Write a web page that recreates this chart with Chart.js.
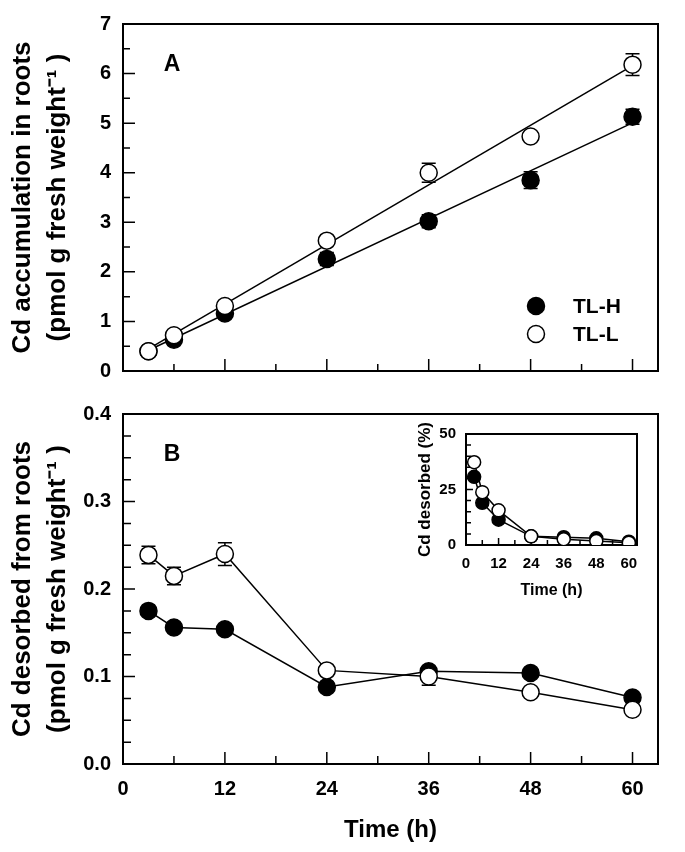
<!DOCTYPE html>
<html>
<head>
<meta charset="utf-8">
<script src="https://cdn.jsdelivr.net/npm/chart.js@4.4.0/dist/chart.umd.min.js"></script>
<style>
body { margin: 0; background: #fff; width: 685px; height: 852px; position: relative; overflow: hidden; }
canvas { position: absolute; }
</style>
</head>
<body>
<canvas id="chartA" width="685" height="395" style="left:0;top:0"></canvas>
<canvas id="chartB" width="685" height="462" style="left:0;top:390px"></canvas>
<canvas id="chartC" width="270" height="190" style="left:400px;top:415px"></canvas>
<script>
// sampling times (h)
var hours = [3, 6, 12, 24, 36, 48, 60];

// A: Cd accumulation in roots
var accumH = [0.40, 0.63, 1.16, 2.26, 3.02, 3.85, 5.13];
var accumL = [0.40, 0.72, 1.31, 2.63, 4.00, 4.73, 6.18];
var accumHErr = [0.02, 0.04, 0.05, 0.13, 0.13, 0.17, 0.15];
var accumLErr = [0.02, 0.04, 0.05, 0.06, 0.19, 0.05, 0.22];

// B: Cd desorbed from roots
var desorbH = [0.175, 0.156, 0.154, 0.088, 0.106, 0.104, 0.076];
var desorbL = [0.239, 0.215, 0.240, 0.107, 0.100, 0.082, 0.062];
var desorbHErr = [0.004, 0.004, 0.004, 0.004, 0.005, 0.004, 0.004];
var desorbLErr = [0.010, 0.010, 0.013, 0.004, 0.010, 0.004, 0.004];

// inset: Cd desorbed (%)
var pctH = [30.7, 19.0, 11.4, 3.9, 3.5, 3.0, 1.5];
var pctL = [37.3, 23.8, 15.6, 3.9, 2.6, 1.8, 1.0];

// ticks
var timeTicks = [0, 12, 24, 36, 48, 60];
var timeMinor = [6, 18, 30, 42, 54];
var accumTicks = [0, 1, 2, 3, 4, 5, 6, 7];
var accumMinor = [0.5, 1.5, 2.5, 3.5, 4.5, 5.5, 6.5];
var desorbTicks = [0, 0.1, 0.2, 0.3, 0.4];
var desorbMinor = [0.025, 0.05, 0.075, 0.125, 0.15, 0.175, 0.225, 0.25, 0.275, 0.325, 0.35, 0.375];
var pctTicks = [0, 25, 50];
var pctMinor = [5, 10, 15, 20, 30, 35, 40, 45];

var FONT = "'Liberation Sans', Arial, Helvetica, sans-serif";

function pts(xs, ys) {
    return xs.map(function (x, i) { return { x: x, y: ys[i] }; });
}

// least-squares line through the points, drawn from first to last time
function fitLine(xs, ys) {
    var n = xs.length, mx = 0, my = 0, sxy = 0, sxx = 0;
    for (var i = 0; i < n; i++) { mx += xs[i] / n; my += ys[i] / n; }
    for (var j = 0; j < n; j++) { sxy += (xs[j] - mx) * (ys[j] - my); sxx += (xs[j] - mx) * (xs[j] - mx); }
    var b = sxy / sxx, a = my - b * mx;
    return [{ x: xs[0], y: a + b * xs[0] }, { x: xs[n - 1], y: a + b * xs[n - 1] }];
}

// frame + inward ticks
var frameTicks = {
    id: 'frameTicks',
    beforeDatasetsDraw: function (chart, args, o) {
        var ctx = chart.ctx, a = chart.chartArea;
        var xs = chart.scales.x, ys = chart.scales.y;
        ctx.save();
        ctx.strokeStyle = '#000';
        ctx.lineWidth = 1.5;
        ctx.beginPath();
        o.xMajor.forEach(function (v) { var p = xs.getPixelForValue(v); ctx.moveTo(p, a.bottom); ctx.lineTo(p, a.bottom - o.major); });
        o.xMinor.forEach(function (v) { var p = xs.getPixelForValue(v); ctx.moveTo(p, a.bottom); ctx.lineTo(p, a.bottom - o.minor); });
        o.yMajor.forEach(function (v) { var p = ys.getPixelForValue(v); ctx.moveTo(a.left, p); ctx.lineTo(a.left + o.major, p); });
        o.yMinor.forEach(function (v) { var p = ys.getPixelForValue(v); ctx.moveTo(a.left, p); ctx.lineTo(a.left + o.minor, p); });
        ctx.stroke();
        ctx.lineWidth = 2;
        ctx.strokeRect(a.left, a.top, a.right - a.left, a.bottom - a.top);
        ctx.restore();
    }
};

// error bars from dataset.errors
var errorBars = {
    id: 'errorBars',
    beforeDatasetsDraw: function (chart) {
        var ctx = chart.ctx, ys = chart.scales.y;
        ctx.save();
        ctx.strokeStyle = '#000';
        ctx.lineWidth = 1.5;
        chart.data.datasets.forEach(function (ds, i) {
            if (!ds.errors) return;
            var meta = chart.getDatasetMeta(i);
            meta.data.forEach(function (el, k) {
                var v = ds.data[k].y, e = ds.errors[k];
                var t = ys.getPixelForValue(v + e), b = ys.getPixelForValue(v - e);
                ctx.beginPath();
                ctx.moveTo(el.x, t); ctx.lineTo(el.x, b);
                ctx.moveTo(el.x - 7, t); ctx.lineTo(el.x + 7, t);
                ctx.moveTo(el.x - 7, b); ctx.lineTo(el.x + 7, b);
                ctx.stroke();
            });
        });
        ctx.restore();
    }
};

// panel letter and point legend
var notes = {
    id: 'notes',
    afterDraw: function (chart, args, o) {
        var ctx = chart.ctx, a = chart.chartArea;
        ctx.save();
        ctx.fillStyle = '#000';
        ctx.textBaseline = 'middle';
        if (o.letter) {
            ctx.font = 'bold 23px ' + FONT;
            ctx.textAlign = 'center';
            ctx.fillText(o.letter, a.left + 49, a.top + 41);
        }
        if (o.legend) {
            ctx.font = 'bold 21px ' + FONT;
            ctx.textAlign = 'left';
            o.legend.forEach(function (it, i) {
                var cy = a.bottom - 65 + i * 28, cx = a.right - 122;
                ctx.beginPath();
                ctx.arc(cx, cy, 8.5, 0, Math.PI * 2);
                ctx.fillStyle = it.fill;
                ctx.fill();
                ctx.lineWidth = 1.5;
                ctx.strokeStyle = '#000';
                ctx.stroke();
                ctx.fillStyle = '#000';
                ctx.fillText(it.text, cx + 37, cy + 1);
            });
        }
        ctx.restore();
    }
};

function pointSet(label, data, fill, r, errs) {
    return {
        label: label, data: data, showLine: false,
        pointRadius: r, pointHoverRadius: r,
        pointBackgroundColor: fill, pointBorderColor: '#000', pointBorderWidth: 1.5,
        errors: errs
    };
}

function lineSet(data) {
    return { data: data, showLine: true, pointRadius: 0, borderColor: '#000', borderWidth: 1.5 };
}

function axis(min, max, tickVals, fmt, size, pad, fit, title) {
    return {
        type: 'linear', min: min, max: max,
        afterBuildTicks: function (s) { s.ticks = tickVals.map(function (v) { return { value: v }; }); },
        grid: { display: false, drawTicks: false },
        border: { display: false },
        ticks: {
            display: size > 0, color: '#000', padding: pad,
            font: { family: FONT, size: size, weight: 'bold' },
            callback: fmt
        },
        title: title,
        afterFit: fit
    };
}

function titleOf(text, size, padding) {
    return {
        display: true, text: text, color: '#000', padding: padding,
        font: { family: FONT, size: size, weight: 'bold', lineHeight: 1.35 }
    };
}

function baseOptions(pad) {
    return {
        responsive: false, animation: false,
        layout: { padding: pad },
        plugins: { legend: { display: false }, tooltip: { enabled: false } }
    };
}

// Panel A
var optA = baseOptions({ top: 24, right: 27, left: 0, bottom: 0 });
optA.scales = {
    x: axis(0, 63, timeTicks, function (v) { return v; }, 0, 0, function (s) { s.height = 15; }),
    y: axis(0, 7, accumTicks, function (v) { return v; }, 20, 12, function (s) { s.width = 123; },
        titleOf(['Cd accumulation in roots', '(pmol g fresh weight\u207B\u00B9 )'], 26, { top: 5, bottom: 0 }))
};
optA.plugins.frameTicks = { xMajor: timeTicks, xMinor: timeMinor, yMajor: accumTicks, yMinor: accumMinor, major: 12, minor: 7 };
optA.plugins.notes = { letter: 'A', legend: [{ text: 'TL-H', fill: '#000' }, { text: 'TL-L', fill: '#fff' }] };

new Chart(document.getElementById('chartA').getContext('2d'), {
    type: 'scatter',
    data: {
        datasets: [
            pointSet('TL-L', pts(hours, accumL), '#fff', 8.5, accumLErr),
            pointSet('TL-H', pts(hours, accumH), '#000', 8.5, accumHErr),
            lineSet(fitLine(hours, accumL)),
            lineSet(fitLine(hours, accumH))
        ]
    },
    options: optA,
    plugins: [frameTicks, errorBars, notes]
});

// Panel B
var optB = baseOptions({ top: 18, right: 27, left: 0, bottom: 0 });
optB.scales = {
    x: axis(0, 63, timeTicks, function (v) { return v; }, 20, 13, function (s) { s.height = 88; },
        titleOf('Time (h)', 24, { top: 0, bottom: 5 })),
    y: axis(0, 0.4, desorbTicks, function (v) { return v.toFixed(1); }, 20, 12, function (s) { s.width = 123; },
        titleOf(['Cd desorbed from roots', '(pmol g fresh weight\u207B\u00B9 )'], 26, { top: 5, bottom: 0 }))
};
optB.plugins.frameTicks = { xMajor: timeTicks, xMinor: timeMinor, yMajor: desorbTicks, yMinor: desorbMinor, major: 12, minor: 8 };
optB.plugins.notes = { letter: 'B' };

new Chart(document.getElementById('chartB').getContext('2d'), {
    type: 'scatter',
    data: {
        datasets: [
            pointSet('TL-L', pts(hours, desorbL), '#fff', 8.5, desorbLErr),
            pointSet('TL-H', pts(hours, desorbH), '#000', 8.5, desorbHErr),
            lineSet(pts(hours, desorbL)),
            lineSet(pts(hours, desorbH))
        ]
    },
    options: optB,
    plugins: [frameTicks, errorBars, notes]
});

// Inset
var optC = baseOptions({ top: 16, right: 33, left: 0, bottom: 0 });
optC.scales = {
    x: axis(0, 63, timeTicks, function (v) { return v; }, 15, 10, function (s) { s.height = 60; },
        titleOf('Time (h)', 16, { top: 0, bottom: 4 })),
    y: axis(0, 50, pctTicks, function (v) { return v; }, 15, 10, function (s) { s.width = 66; },
        titleOf('Cd desorbed (%)', 17, { top: 14, bottom: 0 }))
};
optC.plugins.frameTicks = { xMajor: timeTicks, xMinor: timeMinor, yMajor: pctTicks, yMinor: pctMinor, major: 7, minor: 5 };

new Chart(document.getElementById('chartC').getContext('2d'), {
    type: 'scatter',
    data: {
        datasets: [
            pointSet('TL-L', pts(hours, pctL), '#fff', 6.5),
            pointSet('TL-H', pts(hours, pctH), '#000', 6.5),
            lineSet(pts(hours, pctL)),
            lineSet(pts(hours, pctH))
        ]
    },
    options: optC,
    plugins: [frameTicks, errorBars]
});
</script>
</body>
</html>
